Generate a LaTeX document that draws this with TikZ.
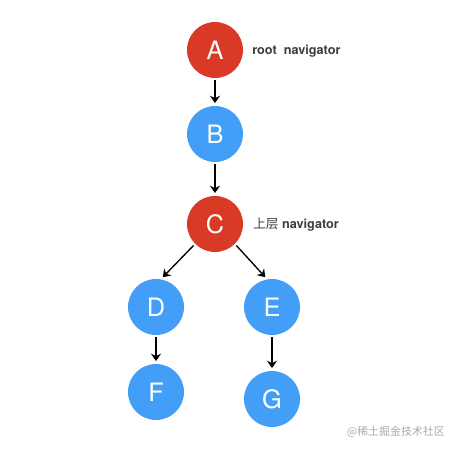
\documentclass[tikz,border=0pt]{standalone}
\usepackage{fontspec}
\setmainfont{TeX Gyre Heros}
\newfontfamily\cjk{Noto Sans CJK SC}
\usepackage{xcolor}
\usepackage{tikz}
\usetikzlibrary{arrows.meta, positioning}
\definecolor{navred}{RGB}{217,58,38}
\definecolor{pageblue}{RGB}{66,158,246}
\definecolor{lblgray}{RGB}{60,60,60}
\definecolor{markgray}{RGB}{170,170,170}
\tikzstyle{route} = [circle, minimum size=42pt, inner sep=0pt, text=white, font=\fontsize{19}{19}\selectfont]
\tikzstyle{navnode} = [route, fill=navred]
\tikzstyle{pagenode} = [route, fill=pageblue]
\tikzstyle{lbl} = [anchor=west, inner sep=0pt, text=lblgray, font=\fontsize{9.5}{10}\selectfont\bfseries]
\tikzstyle{push} = [line width=1pt, ->, >={Stealth[length=5.5pt, width=7.5pt, inset=1.8pt]}, shorten <=1.5pt, shorten >=2pt]

\begin{document}
\begin{tikzpicture}[x=0.75pt, y=-0.75pt]

\useasboundingbox (0, 0) rectangle (458, 449);

\node [navnode] (A) at (215, 50) {A};
\node [pagenode] (B) at (215, 134) {B};
\node [navnode] (C) at (215, 224) {C};
\node [pagenode] (D) at (156, 307) {D};
\node [pagenode] (E) at (272, 307) {E};
\node [pagenode] (F) at (156, 392) {F};
\node [pagenode] (G) at (272, 399) {G};

\draw [push] (A) -- (B);
\draw [push] (B) -- (C);
\draw [push] (C.225) -- (D.80);
\draw [push] (C.-45) -- (E.100);
\draw [push] (D) -- (F);
\draw [push] (E) -- (G);

\node [lbl] (rootlbl) at (252, 51) {root~~navigator};
\node [lbl] (upperlbl) at (253, 225) {{\cjk\mdseries 上层} navigator};

\node [anchor=east, inner sep=0pt, text=markgray, font=\fontsize{8.2}{9}\selectfont] (mark) at (445, 432) {{\cjk @稀土掘金技术社区}};

\end{tikzpicture}
\end{document}
